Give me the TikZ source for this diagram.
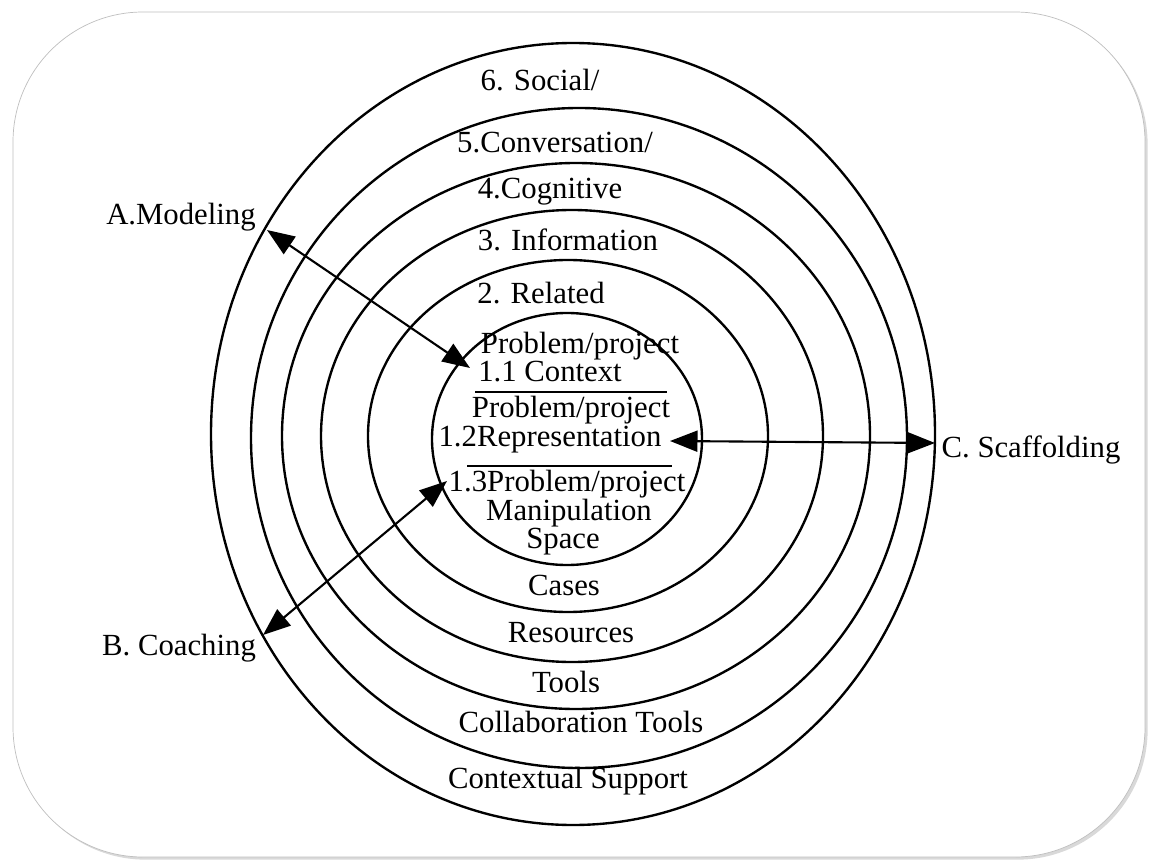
\documentclass[tikz,border=0pt]{standalone}
\usepackage{fontspec}
\setmainfont{Liberation Serif}
\usetikzlibrary{arrows.meta,shadows}

\begin{document}
\begin{tikzpicture}[x=0.02cm,y=-0.02cm,txt/.style={inner sep=0pt,font=\fontsize{17.5}{20}\selectfont},ring/.style={line width=1.35pt},dbl/.style={line width=1.2pt,{Triangle[length=0.55cm,width=0.42cm]}-{Triangle[length=0.55cm,width=0.42cm]}}]
  \useasboundingbox (0,0) rectangle (1150,865);
  \draw[gray!50,fill=white,rounded corners=2.6cm,drop shadow={opacity=0.3,shadow xshift=1.5pt,shadow yshift=-1.5pt}] (13,12) rectangle (1145,857);

  \draw[ring] (573,434) ellipse [x radius=362,y radius=391];
  \draw[ring] (579,438) ellipse [x radius=328,y radius=330];
  \draw[ring] (576,436) ellipse [x radius=294,y radius=273];
  \draw[ring] (572,436) ellipse [x radius=251,y radius=226];
  \draw[ring] (568,436) ellipse [x radius=200,y radius=176];
  \draw[ring] (567,439) ellipse [x radius=135,y radius=126];
  \draw[line width=1.2pt] (475,392) -- (667,392);
  \draw[line width=1.2pt] (467,466) -- (672,466);

  \node[txt] (l6) at (540,80) {6. Social/};
  \node[txt] (l5) at (555,143) {5.Conversation/};
  \node[txt] (l4) at (550,192) {4.Cognitive};
  \node[txt] (l3) at (568,240) {3. Information};
  \node[txt] (l2) at (541,293) {2. Related};
  \node[txt] (p1) at (580,346) {Problem/project};
  \node[txt] (p2) at (550,372) {1.1 Context};
  \node[txt] (p3) at (571,410) {Problem/project};
  \node[txt] (p4) at (550,440) {1.2Representation};
  \node[txt] (p5) at (567,484) {1.3Problem/project};
  \node[txt] (p6) at (569,513) {Manipulation};
  \node[txt] (p7) at (563,542) {Space};
  \node[txt] (r2) at (564,585) {Cases};
  \node[txt] (r3) at (571,633) {Resources};
  \node[txt] (r4) at (566,682) {Tools};
  \node[txt] (r5) at (581,722) {Collaboration Tools};
  \node[txt] (r6) at (568,781) {Contextual Support};

  \node[txt] (ma) at (181,217) {A.Modeling};
  \node[txt] (mb) at (179,648) {B. Coaching};
  \node[txt] (mc) at (1031,450) {C. Scaffolding};

  \coordinate (a1) at (267,230);
  \coordinate (a2) at (470,368);
  \coordinate (b1) at (447,481);
  \coordinate (b2) at (263,635);
  \coordinate (c1) at (670,441);
  \coordinate (c2) at (935,443);
  \draw[dbl] (a1) -- (a2);
  \draw[dbl] (b1) -- (b2);
  \draw[dbl] (c1) -- (c2);
\end{tikzpicture}
\end{document}
